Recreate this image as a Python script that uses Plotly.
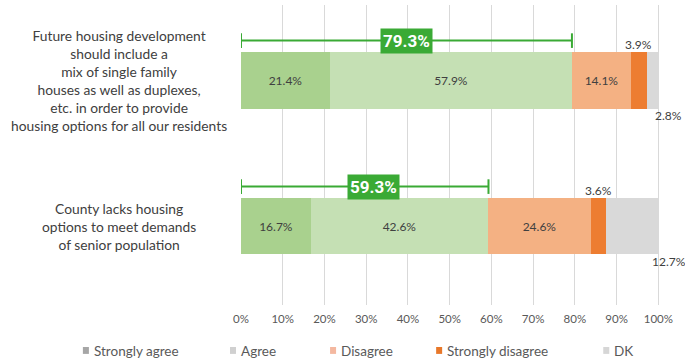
import plotly.graph_objects as go

# Survey statements (wrapped for display) and short keys for the category axis
statement_keys = ["mix", "senior"]
statement_labels = [
    "Future housing development<br>should include a<br>mix of single family<br>houses as well as duplexes,<br>etc. in order to provide<br>housing options for all our residents",
    "County lacks housing<br>options to meet demands<br>of senior population",
]

responses = ["Strongly agree", "Agree", "Disagree", "Strongly disagree", "DK"]
strongly_agree = [21.4, 16.7]
agree = [57.9, 42.6]
disagree = [14.1, 24.6]
strongly_disagree = [3.9, 3.6]
dk = [2.8, 12.7]
agree_totals = [79.3, 59.3]

x_ticks = [0, 10, 20, 30, 40, 50, 60, 70, 80, 90, 100]
x_tick_labels = [f"{t}%" for t in x_ticks]

series = [strongly_agree, agree, disagree, strongly_disagree, dk]
bar_colors = ["#a9d18e", "#c5e0b4", "#f4b183", "#ed7d31", "#d9d9d9"]
legend_colors = ["#a6a6a6", "#d0d0d0", "#f4b8a0", "#e8782a", "#d6d6d6"]
show_inside = [True, True, True, False, False]

TEXT = "#404040"
GREEN = "#3aaa35"
FONT = "Lato"

fig = go.Figure()
for name, vals, col, inside in zip(responses, series, bar_colors, show_inside):
    fig.add_trace(go.Bar(
        y=statement_keys, x=vals, name=name, orientation="h",
        marker=dict(color=col, line=dict(width=0)),
        width=0.39,
        text=[f"{v}%" for v in vals] if inside else None,
        textposition="inside", insidetextanchor="middle",
        textfont=dict(family=FONT, size=12, color=TEXT),
        showlegend=False, hoverinfo="x+name",
    ))

annotations = []
shapes = []

# Statement labels on the left
for key, lab in zip(statement_keys, statement_labels):
    annotations.append(dict(
        x=-0.29, xref="paper", y=key, yref="y", text=lab, showarrow=False,
        xanchor="center", yanchor="middle", align="center",
        font=dict(family=FONT, size=13.8, color=TEXT),
    ))

# Small segments labelled outside the bar
for i, key in enumerate(statement_keys):
    start_sd = strongly_agree[i] + agree[i] + disagree[i]
    annotations.append(dict(
        x=start_sd + strongly_disagree[i] / 2, y=i, xref="x", yref="y",
        text=f"{strongly_disagree[i]}%", showarrow=False, yshift=36,
        font=dict(family=FONT, size=12, color=TEXT),
    ))
    end_total = start_sd + strongly_disagree[i] + dk[i]
    annotations.append(dict(
        x=end_total, y=i, xref="x", yref="y",
        text=f"{dk[i]}%", showarrow=False, xshift=10, yshift=-35,
        font=dict(family=FONT, size=12, color=TEXT),
    ))

# Green brackets spanning the combined agreement share
bracket_off = -0.27
tick_half = 0.05
label_shift = [0.0, 2.0]
for i, tot in enumerate(agree_totals):
    yb = i + bracket_off
    shapes.append(dict(type="line", xref="x", yref="y", x0=0, x1=tot, y0=yb, y1=yb,
                       line=dict(color=GREEN, width=2)))
    for xe in (0, tot):
        shapes.append(dict(type="line", xref="x", yref="y", x0=xe, x1=xe,
                           y0=yb - tick_half, y1=yb + tick_half,
                           line=dict(color=GREEN, width=2)))
    annotations.append(dict(
        x=tot / 2 + label_shift[i], y=yb, xref="x", yref="y",
        text=f"<b>{tot}%</b>", showarrow=False, bgcolor=GREEN, borderpad=2,
        font=dict(family="Liberation Sans Narrow, Roboto", size=17, color="white"),
    ))

# Legend drawn along the bottom
legend_x_px = [83, 230, 330, 436, 603]
L, PW = 241, 418.7
for name, col, px in zip(responses, legend_colors, legend_x_px):
    x0 = (px - L) / PW
    shapes.append(dict(type="rect", xref="paper", yref="paper",
                       x0=x0, x1=x0 + 6 / PW, y0=-0.163, y1=-0.14,
                       fillcolor=col, line=dict(width=0)))
    annotations.append(dict(
        x=x0 + 9 / PW, y=-0.152, xref="paper", yref="paper", text=name,
        showarrow=False, xanchor="left", yanchor="middle",
        font=dict(family=FONT, size=13.5, color="#595959"),
    ))

fig.update_layout(
    width=685, height=360,
    margin=dict(l=241, r=25, t=5, b=55),
    barmode="stack", bargap=0,
    plot_bgcolor="white", paper_bgcolor="white",
    xaxis=dict(range=[0, 100.4], tickvals=x_ticks, ticktext=x_tick_labels,
               showgrid=True, gridcolor="#d9d9d9", gridwidth=1, zeroline=False,
               showline=False, ticks="", ticklabelstandoff=5,
               tickfont=dict(family=FONT, size=11.5, color="#595959")),
    yaxis=dict(categoryorder="array", categoryarray=statement_keys,
               range=[1.541, -0.514], showticklabels=False, showgrid=False,
               zeroline=False, showline=False),
    shapes=shapes, annotations=annotations,
)

fig.write_html("out.html")
